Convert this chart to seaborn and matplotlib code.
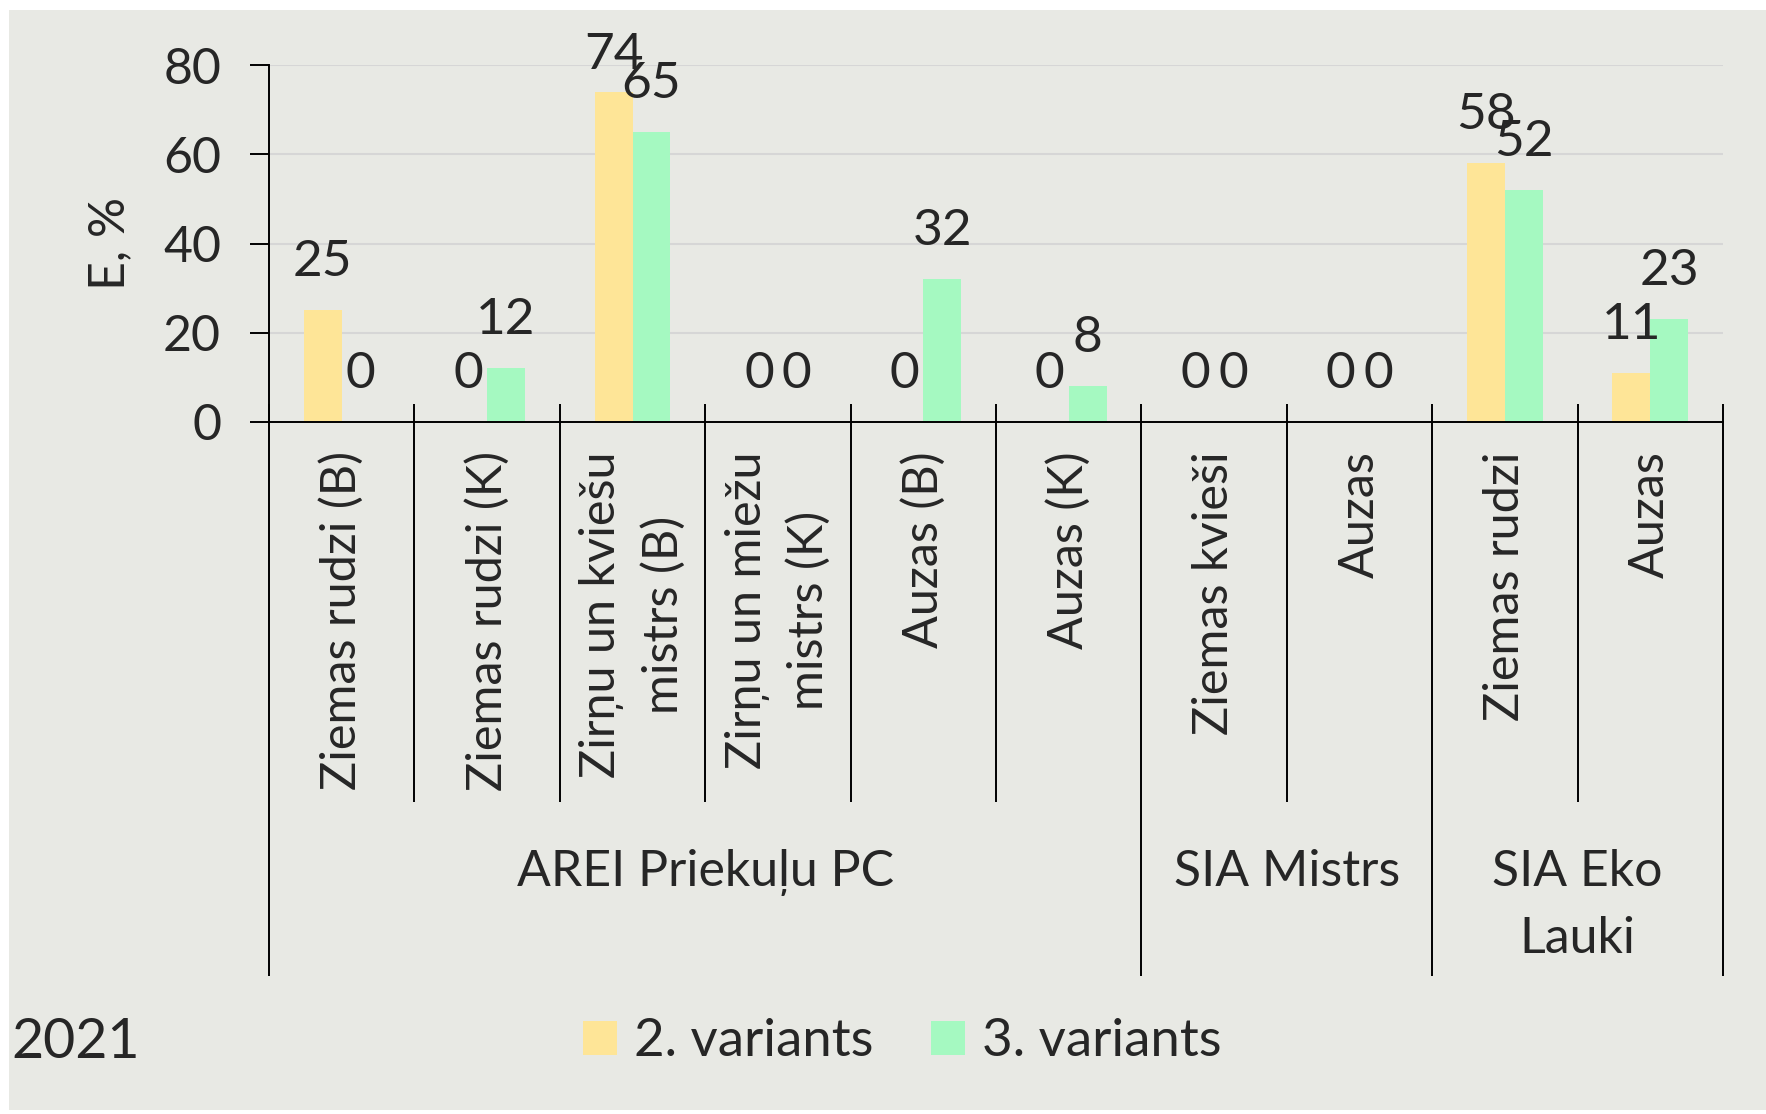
import matplotlib
matplotlib.use("Agg")
import matplotlib.pyplot as plt
import matplotlib.transforms as mtransforms
from matplotlib.patches import Rectangle, Patch
import seaborn as sns
import pandas as pd

# ---------------- data ----------------
categories = ["Ziemas rudzi (B)", "Ziemas rudzi (K)", "Zirņu un kviešu\nmistrs (B)",
              "Zirņu un miežu\nmistrs (K)", "Auzas (B)", "Auzas (K)",
              "Ziemas kvieši", "Auzas", "Ziemas rudzi", "Auzas"]
groups = ["AREI Priekuļu PC", "SIA Mistrs", "SIA Eko\nLauki"]
group_sizes = [6, 2, 2]
series_names = ["2. variants", "3. variants"]
variant2 = [25, 0, 74, 0, 0, 0, 0, 0, 58, 11]
variant3 = [0, 12, 65, 0, 32, 8, 0, 0, 52, 23]
y_ticks = [0, 20, 40, 60, 80]
y_label = "E, %"
year_label = "2021"

# ---------------- style ----------------
sns.set_style("white")
plt.rcParams["font.family"] = ["Lato", "DejaVu Sans"]
BG = "#E8E9E4"
YELLOW = "#FEE597"
GREEN = "#A5F9C1"
FS = 35

W, H = 1766, 1114
fig = plt.figure(figsize=(W / 100, H / 100), dpi=100, facecolor="white")
fig.add_artist(Rectangle((9 / W, 1 - 1110 / H), 1, (1110 - 10) / H,
                         transform=fig.transFigure, facecolor=BG,
                         edgecolor="none", zorder=-10))

left, right, top, bottom = 269 / W, 1723 / W, 1 - 65 / H, 1 - 422 / H
ax = fig.add_axes([left, bottom, right - left, top - bottom])
ax.patch.set_alpha(0)

n = len(categories)
df = pd.DataFrame({
    "idx": list(range(n)) * 2,
    "value": variant2 + variant3,
    "series": [s for s in series_names for _ in range(n)],
})
sns.barplot(data=df, x="idx", y="value", hue="series", hue_order=series_names,
            palette=[YELLOW, GREEN], width=0.522, gap=0, saturation=1,
            errorbar=None, linewidth=0, legend=False, ax=ax)

ax.set_xlim(-0.5, n - 0.5)
ax.set_ylim(y_ticks[0], y_ticks[-1])
ax.set_yticks(y_ticks)
ax.set_yticklabels([str(t) for t in y_ticks], fontsize=FS + 1)
ax.yaxis.grid(True, color="#D6D6D6", linewidth=1.5)
ax.set_axisbelow(True)
ax.tick_params(axis="y", length=13.5, width=1.4, color="black", pad=21, direction="out", left=True)
ax.set_xlabel("")
ax.set_ylabel("")

for s in ["top", "right"]:
    ax.spines[s].set_visible(False)
for s in ["left", "bottom"]:
    ax.spines[s].set_color("black")
    ax.spines[s].set_linewidth(1.4)

ax.set_xticks(range(n))
ax.set_xticklabels(categories, rotation=90, va="top", ha="center",
                   multialignment="center", fontsize=FS, linespacing=1.45)
ax.tick_params(axis="x", length=0, pad=21)

# bar value labels
for cont in ax.containers:
    for bar in cont:
        v = bar.get_height()
        xc = bar.get_x() + bar.get_width() / 2
        ax.text(xc, min(v + 7.7, 79.1), f"{v:.0f}", ha="center", va="baseline",
                fontsize=37, clip_on=False)

# category separators
trans = mtransforms.blended_transform_factory(ax.transData, ax.transAxes)
bounds = [-0.5]
for g in group_sizes:
    bounds.append(bounds[-1] + g)
for b in range(n + 1):
    xb = b - 0.5
    long = xb in bounds
    ax.plot([xb, xb], [0.05, -1.552 if long else -1.064], transform=trans,
            color="black", lw=1.4, clip_on=False, solid_capstyle="butt")

# group labels
for i, g in enumerate(groups):
    xc = (bounds[i] + bounds[i + 1]) / 2
    ax.text(xc, -1.195, g, transform=trans, ha="center", va="top",
            fontsize=36, linespacing=1.58, multialignment="center")

fig.text(110 / W, 0.5 * (top + bottom), y_label, rotation=90, ha="center",
         va="center", fontsize=36)
fig.text(11 / W, 1 - 1042 / H, year_label, ha="left", va="center", fontsize=40)

handles = [Patch(facecolor=c, edgecolor="none", label=s)
           for c, s in zip([YELLOW, GREEN], series_names)]
fig.legend(handles=handles, loc="center", bbox_to_anchor=(902 / W, 1 - 1042 / H),
           ncol=2, frameon=False, fontsize=38, handlelength=0.64,
           handleheight=0.64, handletextpad=0.32, columnspacing=1.1)

fig.savefig("out.png", dpi=100, facecolor="white")
